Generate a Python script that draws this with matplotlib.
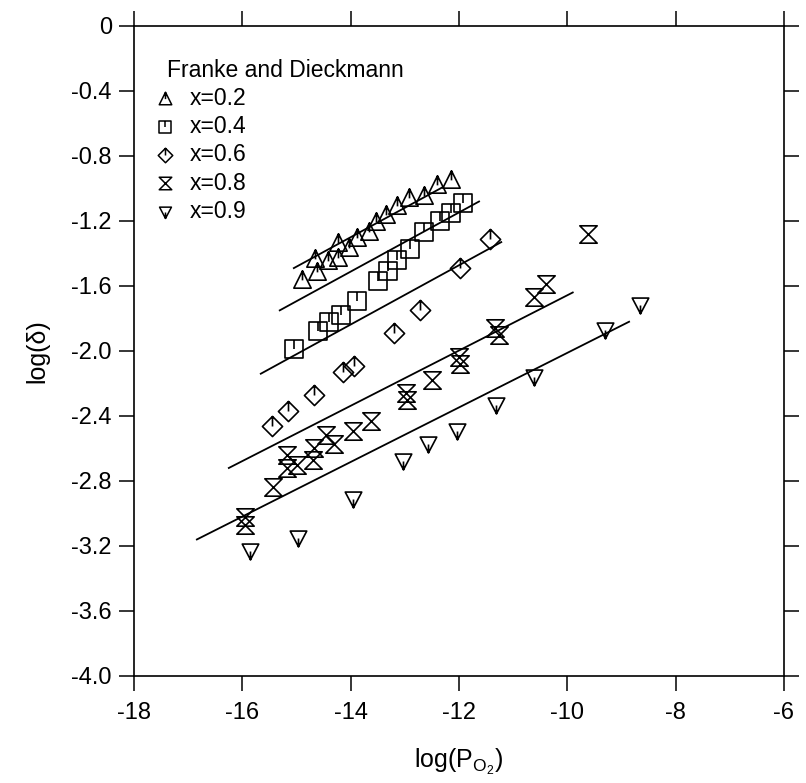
import numpy as np
import matplotlib
matplotlib.use('Agg')
import matplotlib.pyplot as plt
from matplotlib.path import Path

plt.rcParams['font.family'] = ['Liberation Sans', 'DejaVu Sans']
plt.rcParams['axes.unicode_minus'] = False
plt.rcParams['mathtext.default'] = 'regular'

# ---------------- data: log(pO2) / log(delta) ----------------
x02_logp = [-14.89, -14.63, -14.66, -14.41, -14.23, -14.23, -14.04, -13.89,
            -13.66, -13.54, -13.34, -13.14, -12.92, -12.64, -12.41, -12.15]
x02_logd = [-1.56, -1.51, -1.43, -1.44, -1.42, -1.33, -1.36, -1.30,
            -1.26, -1.20, -1.16, -1.10, -1.05, -1.04, -0.97, -0.94]

x04_logp = [-15.05, -14.61, -14.40, -14.18, -13.88, -13.50, -13.31,
            -13.14, -12.91, -12.64, -12.35, -12.14, -11.92]
x04_logd = [-1.99, -1.88, -1.82, -1.78, -1.69, -1.57, -1.51,
            -1.44, -1.37, -1.27, -1.20, -1.15, -1.09]

x06_logp = [-15.46, -15.15, -14.68, -14.15, -13.94, -13.20, -12.72, -11.98, -11.43]
x06_logd = [-2.46, -2.37, -2.27, -2.13, -2.09, -1.89, -1.75, -1.49, -1.31]

x08_logp = [-15.96, -15.96, -15.43, -15.17, -15.17, -14.99, -14.69, -14.67,
            -14.46, -14.30, -13.95, -13.63, -12.97, -12.96, -12.49, -12.00,
            -11.98, -11.34, -11.26, -10.61, -10.39, -9.61]
x08_logd = [-3.02, -3.07, -2.84, -2.64, -2.72, -2.70, -2.67, -2.60,
            -2.52, -2.57, -2.49, -2.43, -2.26, -2.30, -2.18, -2.04,
            -2.08, -1.86, -1.90, -1.67, -1.59, -1.28]

x09_logp = [-15.86, -14.97, -13.96, -13.04, -12.57, -12.04, -11.32, -10.61, -9.31, -8.66]
x09_logd = [-3.23, -3.15, -2.91, -2.68, -2.57, -2.49, -2.33, -2.16, -1.87, -1.72]

# fitted lines (end points)
fit_x = {'0.2': [-15.05, -12.29], '0.4': [-15.31, -11.63], '0.6': [-15.66, -11.22],
         '0.8': [-16.25, -9.90], '0.9': [-16.84, -8.86]}
fit_y = {'0.2': [-1.49, -0.99], '0.4': [-1.75, -1.08], '0.6': [-2.14, -1.33],
         '0.8': [-2.72, -1.64], '0.9': [-3.16, -1.82]}

series_labels = ['x=0.2', 'x=0.4', 'x=0.6', 'x=0.8', 'x=0.9']
legend_title = 'Franke and Dieckmann'

x_ticks = np.arange(-18, -5, 2)
y_ticks = np.arange(-4.0, 0.01, 0.4)

# ---------------- open symbols with a small stroke ----------------
M, L, C = Path.MOVETO, Path.LINETO, Path.CLOSEPOLY
tri_up = Path([(0, 1), (-1, -1), (1, -1), (0, 1), (0, 0), (0, 1), (0, -0.1)],
              [M, L, L, C, M, M, L])
square = Path([(-1, -1), (1, -1), (1, 1), (-1, 1), (0, 0), (0, 1), (0, 0)],
              [M, L, L, L, C, M, L])
diamond = Path([(0, 1), (-1, 0), (0, -1), (1, 0), (0, 0), (0, 1), (0, 0)],
               [M, L, L, L, C, M, L])
hourglass = Path([(-1, 1), (1, 1), (-1, -1), (1, -1), (0, 0)],
                 [M, L, L, L, C])
tri_down = Path([(-1, 0.9), (1, 0.9), (0, -1), (0, 0), (0, 0), (0, -1.05)],
                [M, L, L, C, M, L])

markers = [tri_up, square, diamond, hourglass, tri_down]
msizes = [12.5, 12.5, 14.5, 12.5, 12.5]
xs = [x02_logp, x04_logp, x06_logp, x08_logp, x09_logp]
ys = [x02_logd, x04_logd, x06_logd, x08_logd, x09_logd]
keys = ['0.2', '0.4', '0.6', '0.8', '0.9']

fig = plt.figure(figsize=(8.06, 7.83), dpi=100)
ax = fig.add_axes([0.1663, 0.1367, 0.8064, 0.8301])

for mk, ms, x, y, k in zip(markers, msizes, xs, ys, keys):
    ax.plot(fit_x[k], fit_y[k], color='black', linewidth=1.3)
    ax.plot(x, y, linestyle='none', marker=mk, markersize=ms,
            markerfacecolor='none', markeredgecolor='black', markeredgewidth=1.2)

# legend drawn in axes coordinates
ax.text(0.051, 0.932, legend_title, transform=ax.transAxes, fontsize=16.5,
        ha='left', va='center')
row_y = [0.889, 0.845, 0.802, 0.758, 0.714]
for mk, ms, lab, ry in zip(markers, msizes, series_labels, row_y):
    ax.plot([0.048], [ry], transform=ax.transAxes, marker=mk, markersize=ms * 0.72,
            markerfacecolor='none', markeredgecolor='black', markeredgewidth=1.1,
            linestyle='none')
    ax.text(0.085, ry, lab, transform=ax.transAxes, fontsize=16.5,
            ha='left', va='center')

ax.set_xlim(-18, -6)
ax.set_ylim(-4.0, 0)
ax.set_xticks(x_ticks)
ax.set_xticklabels(['%d' % v for v in x_ticks])
ax.set_yticks(y_ticks)
ax.set_yticklabels(['0' if abs(v) < 1e-9 else '%.1f' % v for v in y_ticks])

ax.tick_params(axis='both', direction='out', length=11, width=1.1,
               top=True, right=True, labelsize=17)
ax.tick_params(axis='x', pad=8)
ax.tick_params(axis='y', pad=5)
for sp in ax.spines.values():
    sp.set_linewidth(1.2)

ax.set_xlabel(r'log(P$_{O_2}$)', fontsize=18, labelpad=16)
ax.set_ylabel('log(δ)', fontsize=18, labelpad=16)

fig.savefig('out.png', dpi=100)
